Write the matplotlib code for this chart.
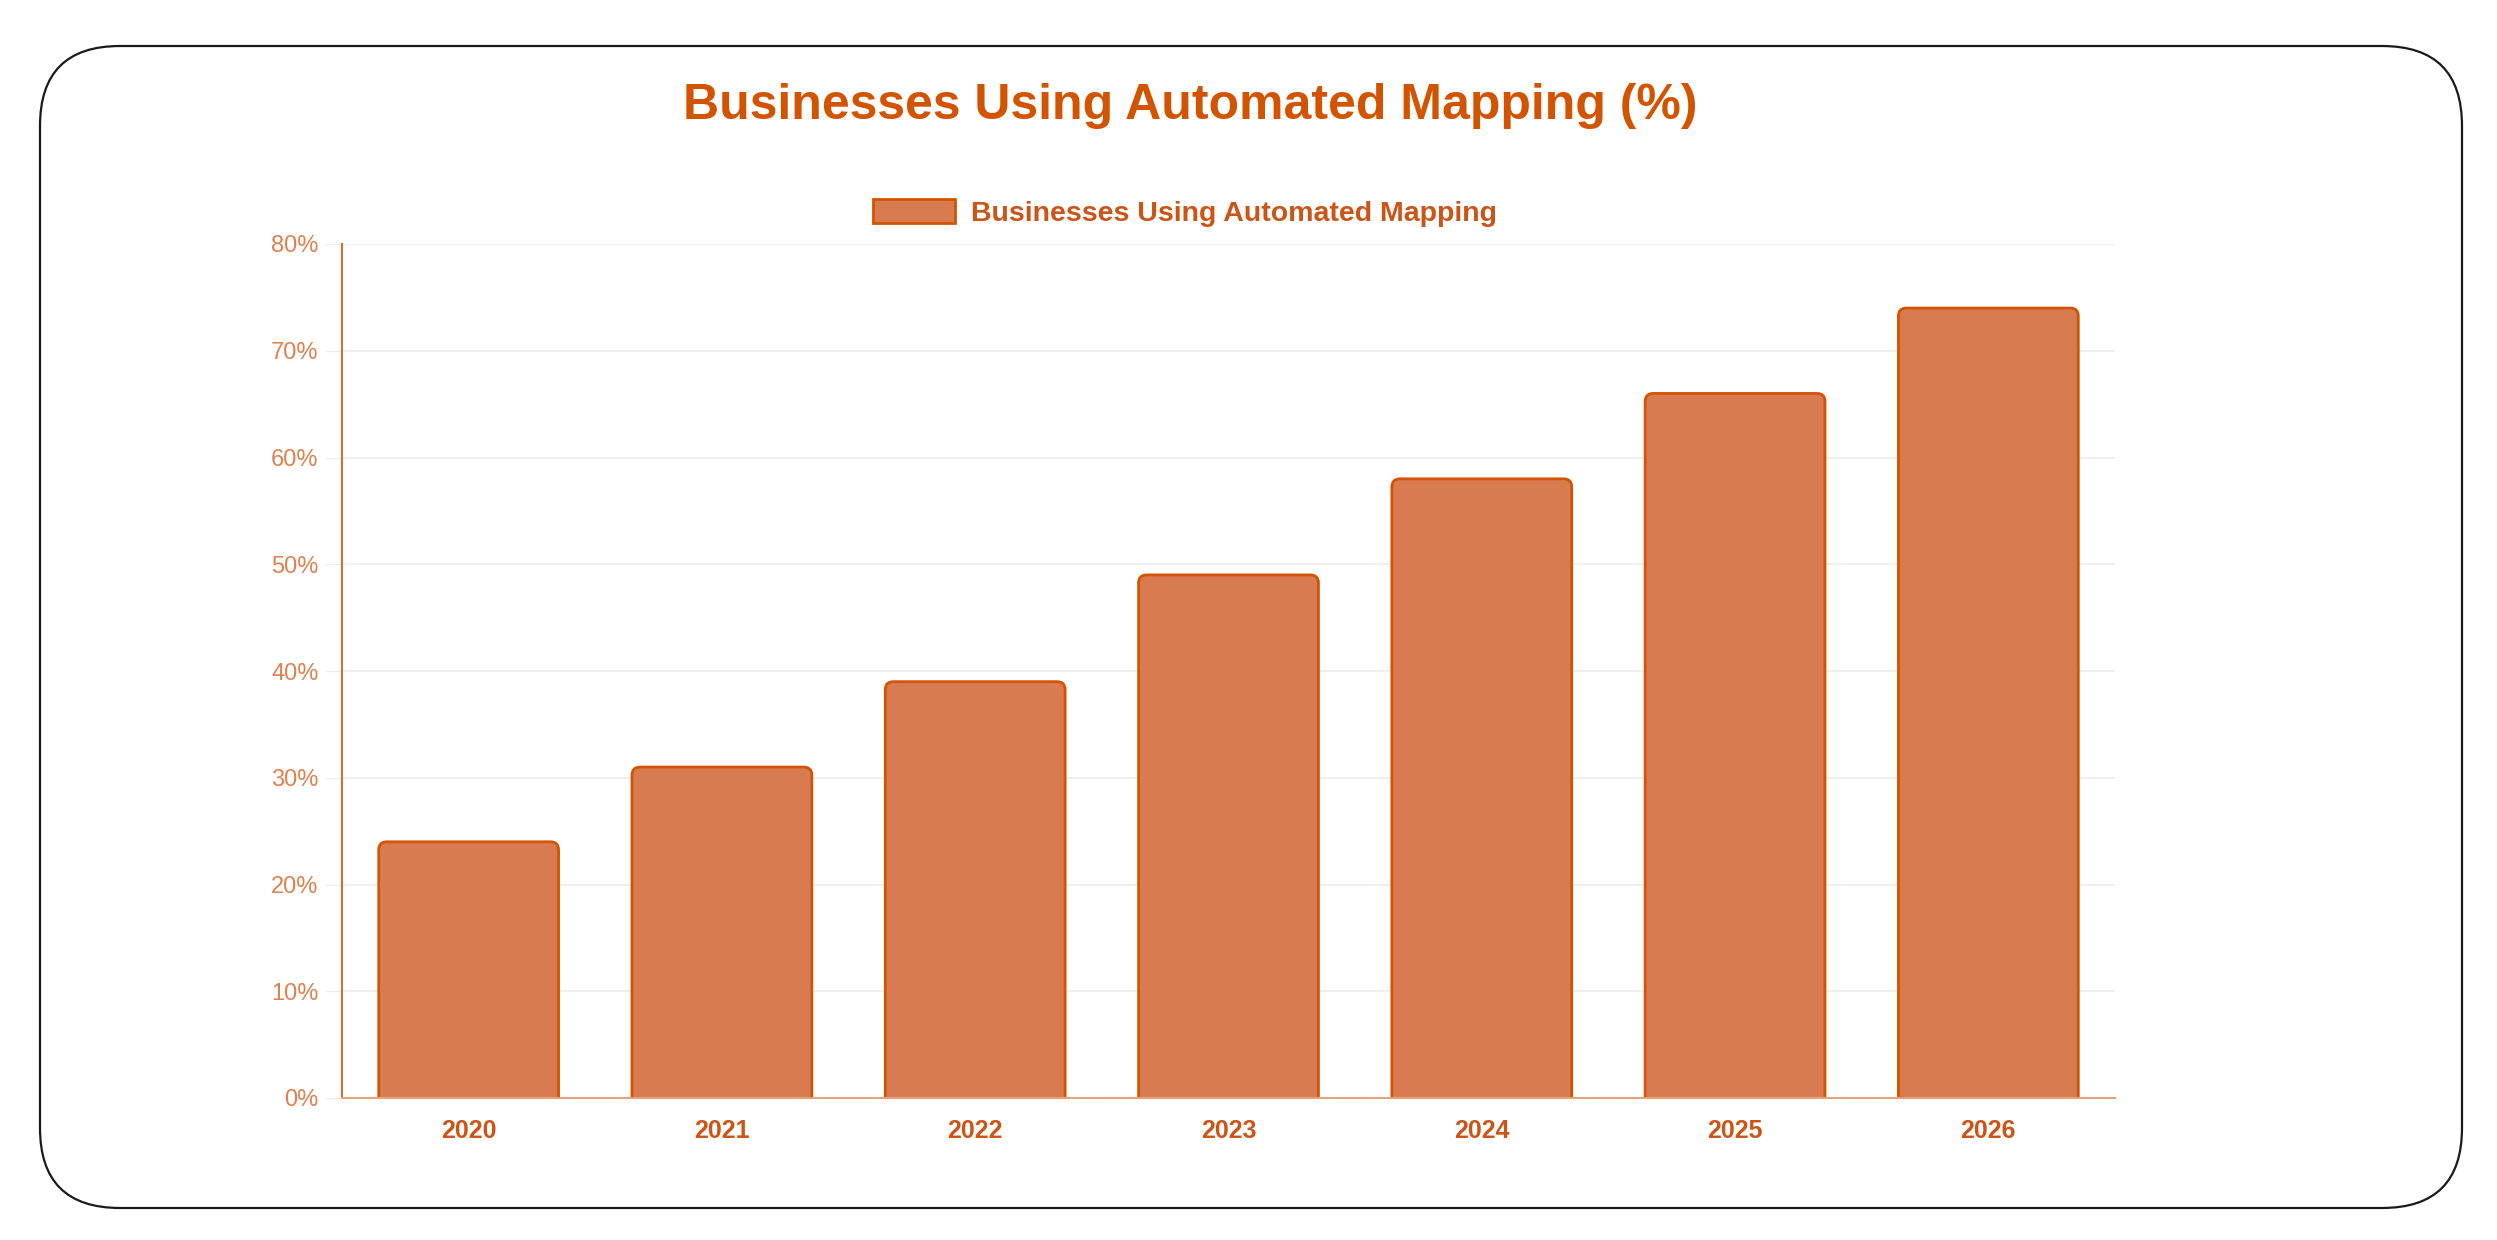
import matplotlib.pyplot as plt
from matplotlib.patches import FancyBboxPatch

years = ['2020', '2021', '2022', '2023', '2024', '2025', '2026']
share = [24, 31, 39, 49, 58, 66, 74]
yticks = [0, 10, 20, 30, 40, 50, 60, 70, 80]
ytick_labels = ['0%', '10%', '20%', '30%', '40%', '50%', '60%', '70%', '80%']
series_name = 'Businesses Using Automated Mapping'
title = 'Businesses Using Automated Mapping (%)'

plt.rcParams['font.family'] = ['Liberation Sans', 'DejaVu Sans']

W, H = 2497, 1240
fig = plt.figure(figsize=(W / 100, H / 100), dpi=100)

# outer rounded frame (pixel coords -> figure fraction)
frame = FancyBboxPatch((40 / W, 1 - 1208 / H), (2462 - 40) / W, (1208 - 46) / H,
                       boxstyle='round,pad=0,rounding_size=%f' % (80 / W),
                       mutation_aspect=W / H, transform=fig.transFigure,
                       facecolor='none', edgecolor='#1a1a1a', linewidth=1.6, zorder=-1)
fig.patches.append(frame)

ax = fig.add_axes([342 / W, 1 - 1098 / H, (2115 - 342) / W, (1098 - 244) / H])
ax.set_facecolor('none')
ax.set_xlim(-0.5, len(years) - 0.5)
ax.set_ylim(0, 80)

bars = ax.bar(range(len(years)), share, width=0.71, color='#D87B50',
              edgecolor='#D35400', linewidth=2, label=series_name, zorder=3)

# swap plain rectangles for ones with rounded top corners
# (start a bit below 0 so the clipped bottom stays square)
px_x = (2115 - 342) / 7.0
px_y = (1098 - 244) / 80.0
r = 8 / px_x
for b in bars:
    x, y = b.get_x(), b.get_y()
    w, h = b.get_width(), b.get_height()
    p = FancyBboxPatch((x, y - 2), w, h + 2, boxstyle='round,pad=0,rounding_size=%f' % r,
                       mutation_aspect=px_x / px_y, facecolor='#D87B50',
                       edgecolor='#D35400', linewidth=2, zorder=3)
    ax.add_patch(p)
    b.set_visible(False)

ax.set_yticks(yticks)
ax.set_yticklabels(ytick_labels)
ax.set_xticks(range(len(years)))
ax.set_xticklabels(years)
ax.grid(axis='y', color='#ECECEC', linewidth=1.2, zorder=0)
ax.tick_params(axis='y', length=12, color='#ECECEC', pad=5, labelsize=17,
               labelcolor='#E0804D')
ax.tick_params(axis='x', length=0, pad=15, labelsize=18, labelcolor='#CC5416')
for lab in ax.get_xticklabels():
    lab.set_fontweight('bold')

for s in ['top', 'right']:
    ax.spines[s].set_visible(False)
ax.spines['left'].set_color('#D0702F')
ax.spines['left'].set_linewidth(1.5)
ax.spines['bottom'].set_color('#E8A27A')
ax.spines['bottom'].set_linewidth(1.5)
ax.spines['bottom'].set_zorder(4)

handle = plt.Rectangle((0, 0), 1, 1, facecolor='#D87B50', edgecolor='#D35400', linewidth=2)
leg = fig.legend([handle], [series_name], loc='center', bbox_to_anchor=(1185 / W, 1 - 213 / H),
                 frameon=False, handlelength=2.9, handleheight=0.9, handletextpad=0.55,
                 prop={'weight': 'bold', 'size': 20.5})
for t in leg.get_texts():
    t.set_color('#CC5416')

fig.text(1190 / W, 1 - 106 / H, title, ha='center', va='center', fontsize=36,
         fontweight='bold', color='#D35400')

fig.savefig('out.png', dpi=100, facecolor='white')
